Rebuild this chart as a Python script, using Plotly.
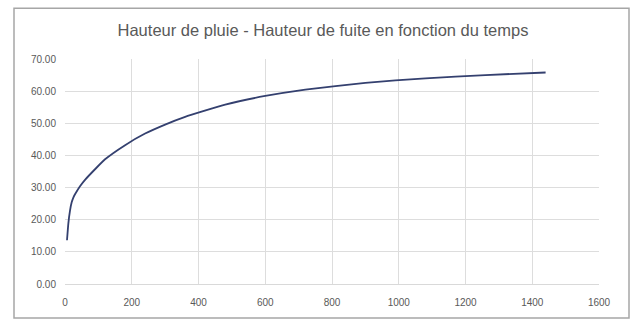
import plotly.graph_objects as go

# Rainfall depth (mm) vs duration (min)
durations = [6, 10, 15, 20, 25, 30, 45, 60, 90, 120, 180, 240, 300, 360,
             480, 600, 720, 900, 1080, 1260, 1440]
heights = [13.6, 18.8, 22.8, 25.4, 26.9, 27.9, 30.4, 32.4, 35.7, 38.8, 43.2,
           46.8, 49.6, 52.0, 55.8, 58.5, 60.5, 62.6, 64.0, 65.0, 65.8]

x_ticks = list(range(0, 1601, 200))
y_ticks = list(range(0, 71, 10))

W, H = 632, 320
L, R, T, B = 65, 33, 59, 30

fig = go.Figure()
fig.add_trace(go.Scatter(
    x=durations, y=heights, mode="lines",
    line=dict(color="#34406F", width=1.8, shape="spline", smoothing=0.4),
    showlegend=False,
))

pw = W - L - R
ph = H - T - B

def px(xp):
    return (xp - L) / pw

def py(yp):
    return (H - B - yp) / ph

# chart-area frame
fig.add_shape(type="rect", xref="paper", yref="paper",
              x0=px(14), x1=px(629), y0=py(325), y1=py(7),
              line=dict(color="#A6A6A6", width=1.5), fillcolor="rgba(0,0,0,0)",
              layer="below")

fig.update_layout(
    width=W, height=H,
    margin=dict(l=L, r=R, t=T, b=B),
    paper_bgcolor="white", plot_bgcolor="white",
    font=dict(family="Liberation Sans, Arial, sans-serif", color="#595959"),
    title=dict(text="Hauteur de pluie - Hauteur de fuite en fonction du temps",
               x=(323) / W, xanchor="center", y=1 - 30 / H, yanchor="middle",
               font=dict(size=16.5, color="#595959")),
    xaxis=dict(range=[0, 1600], tickvals=x_ticks, showgrid=True,
               gridcolor="#DDDDDD", gridwidth=1, zeroline=False,
               showline=True, linecolor="#D9D9D9", linewidth=1,
               ticks="", ticklabelstandoff=9,
               tickfont=dict(size=10, color="#595959")),
    yaxis=dict(range=[0, 70], tickvals=y_ticks, tickformat=".2f",
               showgrid=True, gridcolor="#DDDDDD", gridwidth=1,
               zeroline=False, showline=False, ticks="", ticklabelstandoff=8,
               tickfont=dict(size=10, color="#595959")),
)

fig.write_html("out.html")
